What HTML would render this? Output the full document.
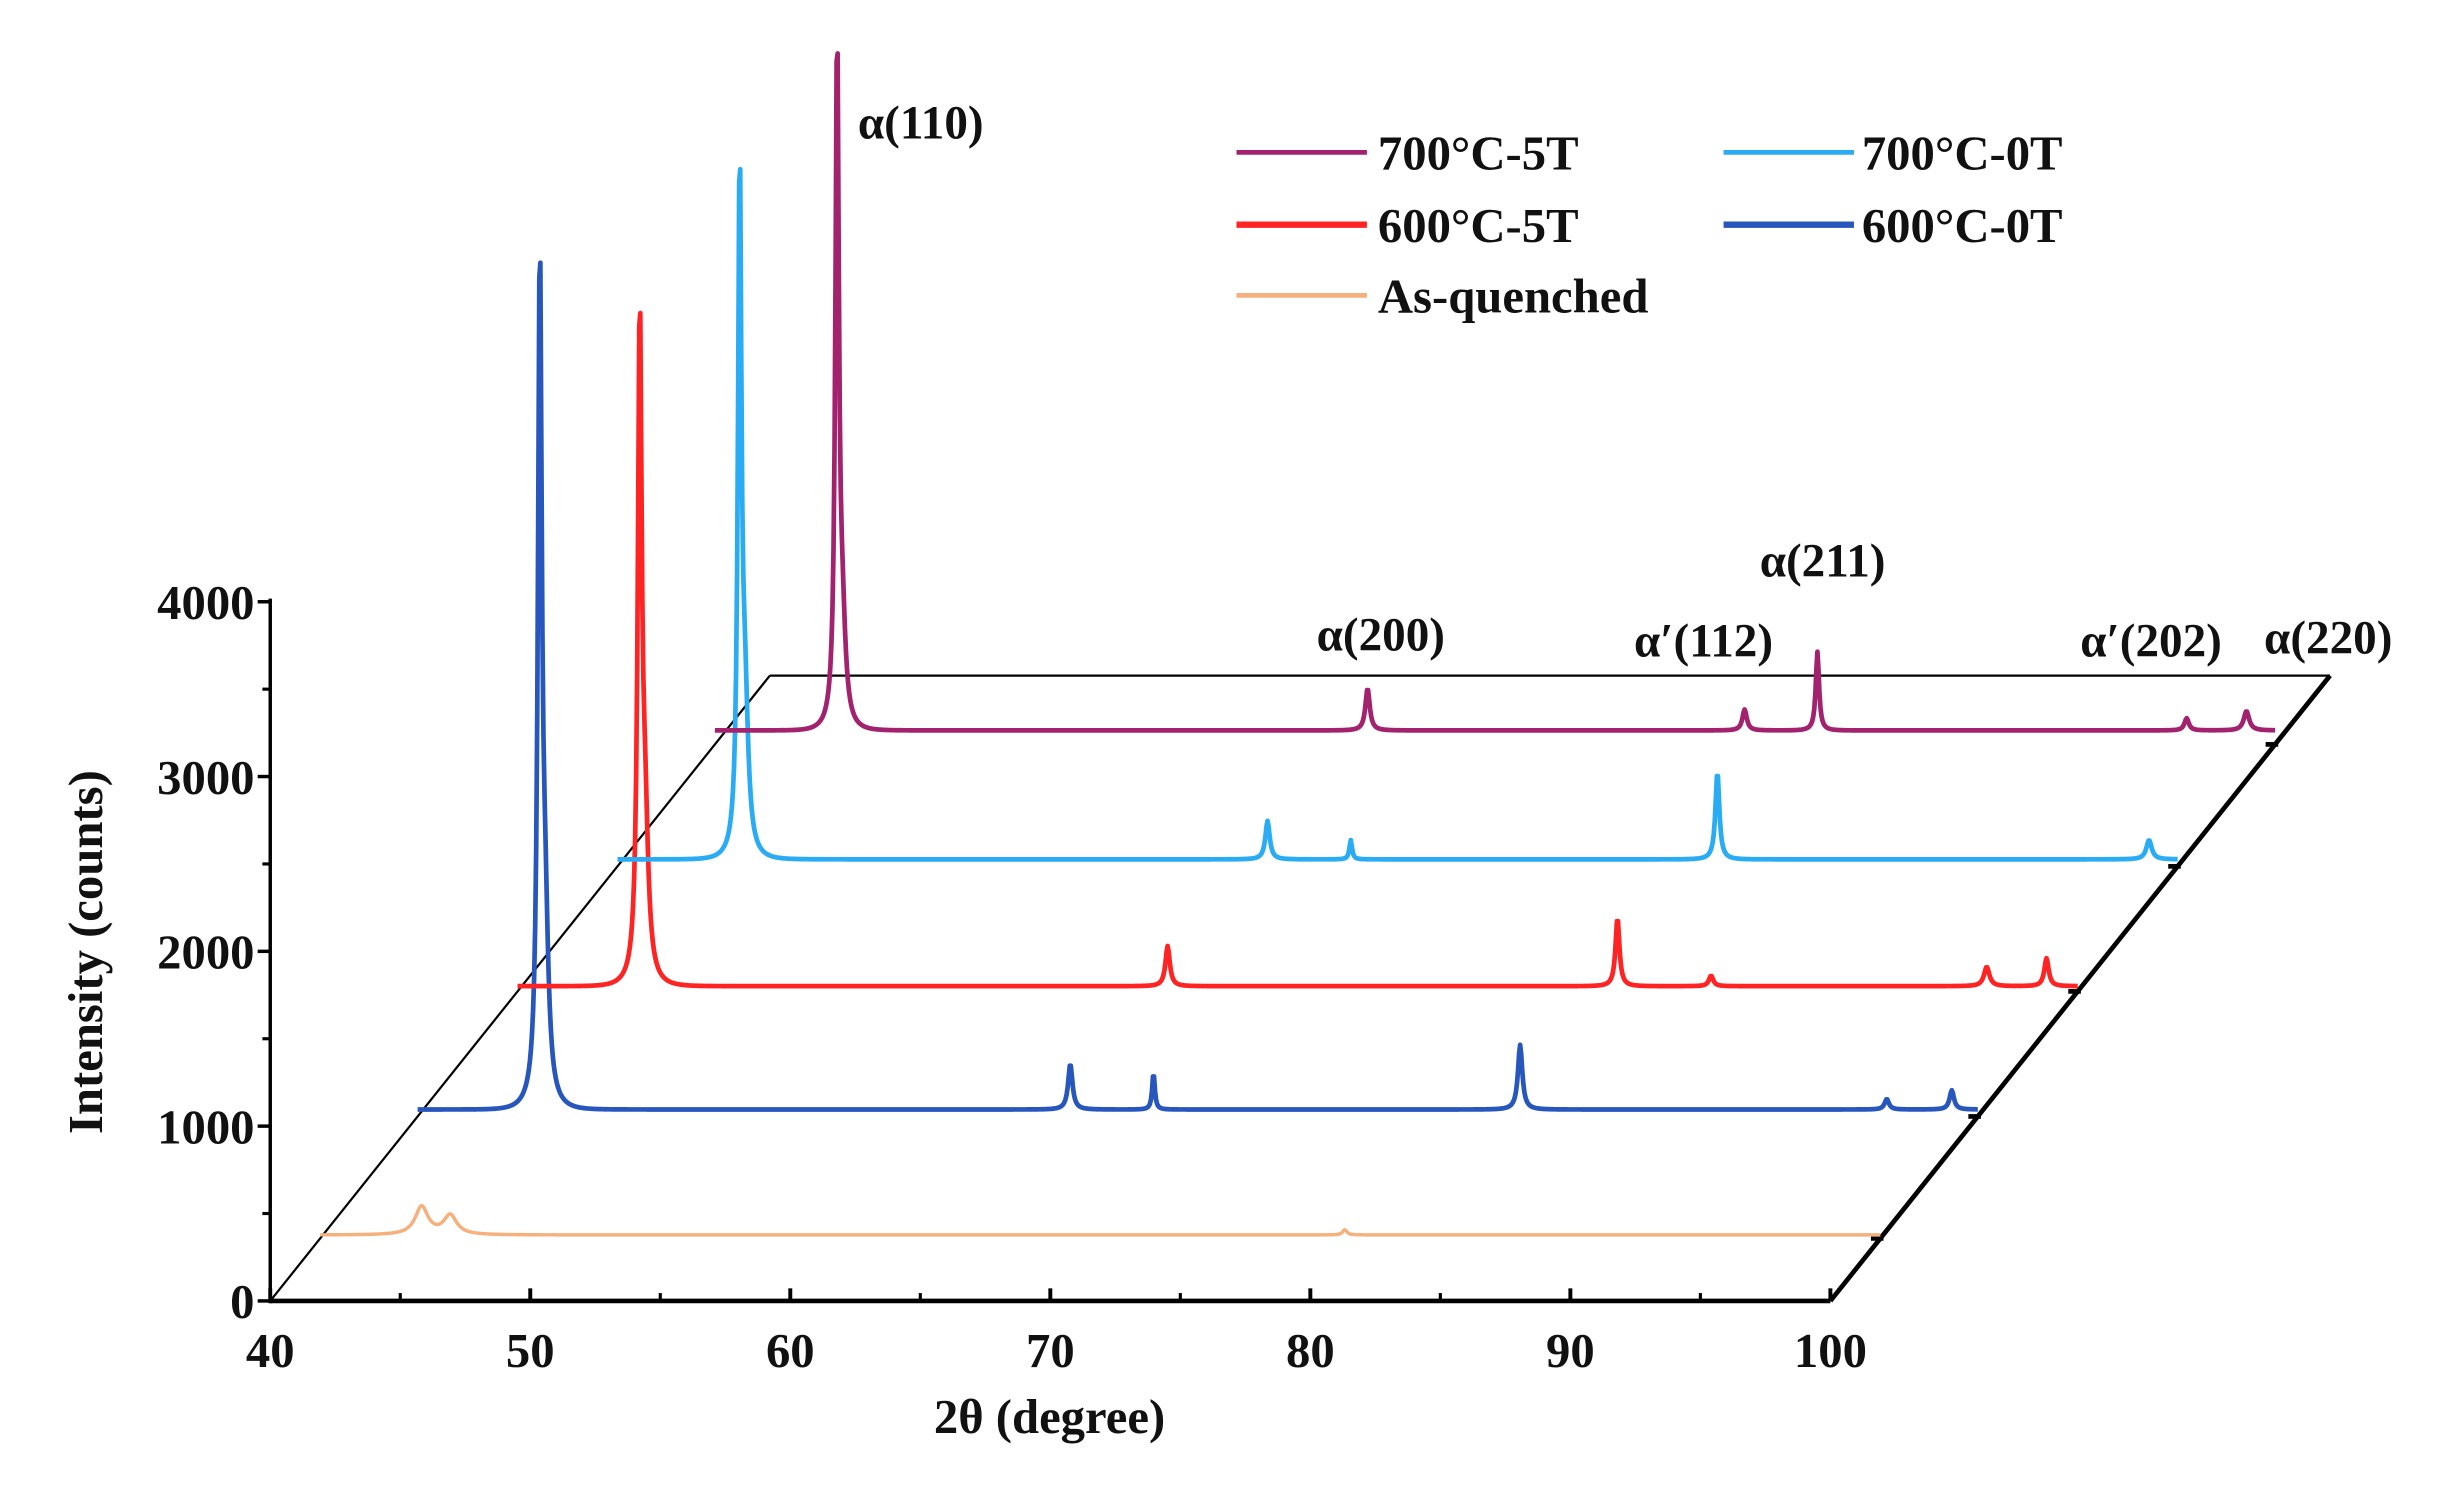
<!DOCTYPE html>
<html><head><meta charset="utf-8"><style>
html,body{margin:0;padding:0;background:#fff}
svg{display:block}
text{font-family:"Liberation Serif",serif;font-weight:bold;fill:#111}
</style></head><body>
<svg id="chart" width="2451" height="1489" viewBox="0 0 1560 947.7" xmlns="http://www.w3.org/2000/svg">
<g id="frame"></g>
<g id="series"></g>
<g id="axes"></g>
<g>
 <line x1="787" y1="97" x2="870" y2="97" stroke="#a3226e" stroke-width="3"/>
 <text x="877" y="108" font-size="31">700°C-5T</text>
 <line x1="1097" y1="97" x2="1180" y2="97" stroke="#2aacf5" stroke-width="3"/>
 <text x="1185" y="108" font-size="31">700°C-0T</text>
 <line x1="787" y1="143" x2="870" y2="143" stroke="#ff2424" stroke-width="4"/>
 <text x="877" y="154" font-size="31">600°C-5T</text>
 <line x1="1097" y1="143" x2="1180" y2="143" stroke="#2756bd" stroke-width="4"/>
 <text x="1185" y="154" font-size="31">600°C-0T</text>
 <line x1="787" y1="188" x2="870" y2="188" stroke="#f5b07c" stroke-width="3"/>
 <text x="877" y="199" font-size="31">As-quenched</text>
</g>
<g>
 <text x="546" y="88" font-size="30">α(110)</text>
 <text x="838" y="414" font-size="30">α(200)</text>
 <text x="1120" y="367" font-size="30">α(211)</text>
 <text x="1040" y="418" font-size="30">α′(112)</text>
 <text x="1324" y="418" font-size="30">α′(202)</text>
 <text x="1441" y="416" font-size="30">α(220)</text>
</g>
<script>
// ---- data ----
const xTicks = [40,50,60,70,80,90,100];
const yTicks = [0,1000,2000,3000,4000];
const seriesNames = ["As-quenched","600°C-0T","600°C-5T","700°C-0T","700°C-5T"];
const seriesColors = ["#f5b07c","#2756bd","#ff2424","#2aacf5","#a3226e"];
const seriesDepth = [0.10,0.295,0.495,0.695,0.89];
const seriesBase = [20,40,30,40,80];
// peaks: [2theta, height(counts), width(deg)]
const peaksAsQuenched = [[43.9,160,0.6],[45.0,110,0.6],[79.4,30,0.2]];
const peaks600_0T = [[44.7,4700,0.18],[44.9,900,0.3],[65.1,260,0.2],[68.3,210,0.12],[82.4,370,0.2],[96.5,60,0.2],[99.0,110,0.2]];
const peaks600_5T = [[44.7,3700,0.18],[44.9,800,0.3],[65.0,230,0.2],[85.9,60,0.2],[82.3,390,0.18],[96.5,110,0.25],[98.8,160,0.2]];
const peaks700_0T = [[44.7,3850,0.16],[44.9,800,0.3],[65.0,220,0.2],[68.2,110,0.12],[82.3,500,0.18],[98.9,110,0.25]];
const peaks700_5T = [[44.7,3900,0.16],[44.9,500,0.3],[65.1,240,0.2],[79.6,120,0.2],[82.4,450,0.15],[96.6,70,0.2],[98.9,110,0.25]];
const allPeaks = [peaksAsQuenched,peaks600_0T,peaks600_5T,peaks700_0T,peaks700_5T];

// ---- axis functions ----
const X0=172, X1=1165, Y0=828, pxPer1000=111.25, DX=318, DY=-398;
const xs = v => X0 + (v-40)/60*(X1-X0);
const ys = v => Y0 - v/1000*pxPer1000;
const NS="http://www.w3.org/2000/svg";
function mk(tag,attrs,parent){const e=document.createElementNS(NS,tag);for(const k in attrs)e.setAttribute(k,attrs[k]);parent.appendChild(e);return e;}

const frame=document.getElementById('frame');
let e;
e=mk('line',{x1:X0,y1:Y0,x2:X0+DX,y2:Y0+DY,stroke:'#000','stroke-width':1.4},frame);


e=mk('line',{x1:X0+DX,y1:Y0+DY,x2:X1+DX,y2:Y0+DY,stroke:'#000','stroke-width':1.4},frame);


e=mk('line',{x1:X1,y1:Y0,x2:X1+DX,y2:Y0+DY,stroke:'#000','stroke-width':3},frame);



const sg=document.getElementById('series');
allPeaks.forEach((pk,i)=>{
  const t=seriesDepth[i], ox=t*DX, oy=t*DY;
  let d='';
  for(let v=40;v<=100.001;v+=0.04){
    let I=seriesBase[i];
    pk.forEach(p=>{const z=(v-p[0])/p[2];I+=p[1]/(1+4*z*z)*Math.exp(-0.02*z*z);});
    d+=(d?'L':'M')+(xs(v)+ox).toFixed(2)+' '+(ys(I)+oy).toFixed(2);
  }
  e=mk('path',{d:d,fill:'none',stroke:seriesColors[i],'stroke-width':i==0?2.2:3,'stroke-linejoin':'round'},sg);
  
  
  e=mk('line',{x1:X1+ox-6,y1:Y0+oy,x2:X1+ox+2,y2:Y0+oy,stroke:'#000','stroke-width':3},frame);
  
  
});

const ax=document.getElementById('axes');
e=mk('line',{x1:X0,y1:Y0,x2:X1,y2:Y0,stroke:'#000','stroke-width':3},ax);


e=mk('line',{x1:X0,y1:Y0+1.5,x2:X0,y2:ys(4000)-2,stroke:'#000','stroke-width':2.2},ax);


xTicks.forEach(v=>{
  e=mk('line',{x1:xs(v),y1:Y0,x2:xs(v),y2:Y0-8,stroke:'#000','stroke-width':2.5},ax);
  
  
  e=mk('text',{x:xs(v),y:Y0+42,'font-size':31,'text-anchor':'middle'},ax);e.textContent=v;
  
  
  if(v<100){e=mk('line',{x1:xs(v+5),y1:Y0,x2:xs(v+5),y2:Y0-5,stroke:'#000','stroke-width':2},ax);
  
  }
});
yTicks.forEach(v=>{
  e=mk('line',{x1:X0,y1:ys(v),x2:X0-8,y2:ys(v),stroke:'#000','stroke-width':2.2},ax);
  
  
  e=mk('text',{x:X0-10,y:ys(v)+11,'font-size':31,'text-anchor':'end'},ax);e.textContent=v;
  
  
  if(v<4000){e=mk('line',{x1:X0,y1:ys(v+500),x2:X0-5,y2:ys(v+500),stroke:'#000','stroke-width':2},ax);
  
  }
});
e=mk('text',{x:668,y:912,'font-size':31,'text-anchor':'middle'},ax);e.textContent='2θ (degree)';


e=mk('text',{x:0,y:0,'font-size':31,'text-anchor':'middle',transform:'translate(65,606) rotate(-90)'},ax);e.textContent='Intensity (counts)';


</script>
</svg>
</body></html>
